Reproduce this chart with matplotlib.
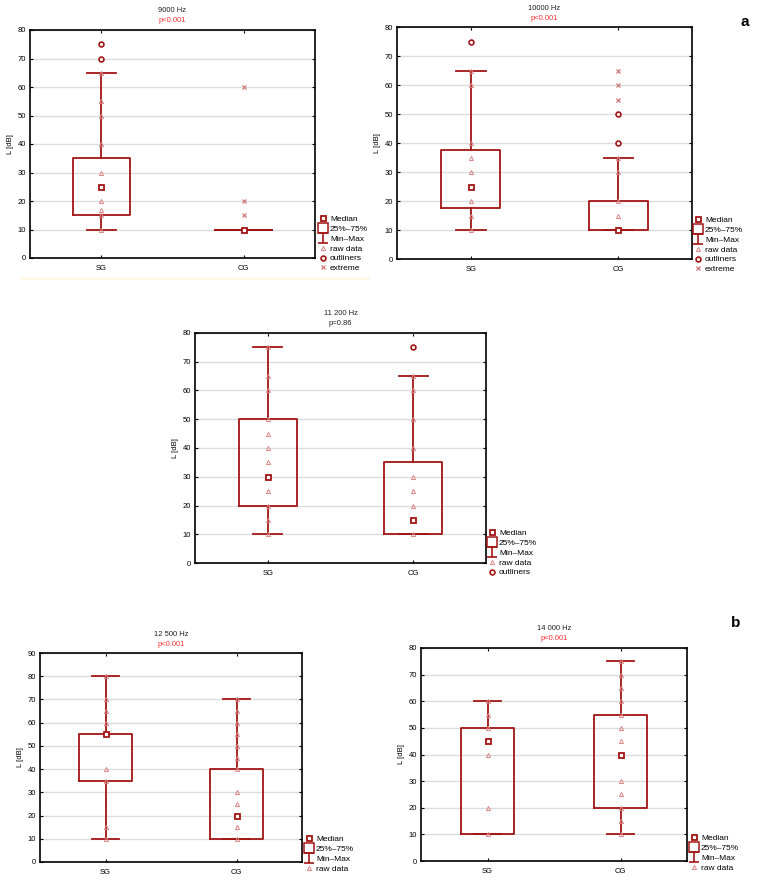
import matplotlib
matplotlib.use("Agg")
import matplotlib.pyplot as plt
from matplotlib.lines import Line2D
from matplotlib.path import Path
from matplotlib.patches import Rectangle
import numpy as np

plt.rcParams['font.family'] = ['Liberation Sans', 'DejaVu Sans']

W, H = 763, 881
groups = ["SG", "CG"]

# ---- data (dB) ----
titles = ["9000 Hz", "10000 Hz", "11 200 Hz", "12 500 Hz", "14 000 Hz"]
pvals = ["p<0.001", "p<0.001", "p=0.86", "p<0.001", "p<0.001"]
p_red = [True, True, False, True, True]
ymax = [80, 80, 80, 90, 80]

q1 = [[15, 10], [17.5, 10], [20, 10], [35, 10], [10, 20]]
med = [[25, 10], [25, 10], [30, 15], [55, 20], [45, 40]]
q3 = [[35, 10], [37.5, 20], [50, 35], [55, 40], [50, 55]]
wlo = [[10, 10], [10, 10], [10, 10], [10, 10], [10, 10]]
whi = [[65, 10], [65, 35], [75, 65], [80, 70], [60, 75]]

raw = [
    [[10, 15, 17, 20, 25, 30, 40, 50, 55, 65], [10]],
    [[10, 15, 20, 30, 35, 40, 60, 65], [10, 15, 20, 30, 35]],
    [[10, 15, 20, 25, 35, 40, 45, 50, 60, 65, 75], [10, 20, 25, 30, 40, 50, 60, 65]],
    [[10, 15, 35, 40, 55, 60, 65, 70, 80], [10, 15, 20, 25, 30, 40, 45, 50, 55, 60, 65, 70]],
    [[10, 20, 40, 45, 50, 55, 60], [10, 15, 20, 25, 30, 40, 45, 50, 55, 60, 65, 70, 75]],
]
outliers = [
    [[70, 75], []],
    [[75], [40, 50]],
    [[], [75]],
    [[], []],
    [[], []],
]
extremes = [
    [[], [15, 20, 60]],
    [[], [55, 60, 65]],
    [[], []],
    [[], []],
    [[], []],
]
legend_labels = [
    ["Median", "25%\u201375%", "Min\u2013Max", "raw data", "outliners", "extreme"],
    ["Median", "25%\u201375%", "Min\u2013Max", "raw data", "outliners", "extreme"],
    ["Median", "25%\u201375%", "Min\u2013Max", "raw data", "outliners"],
    ["Median", "25%\u201375%", "Min\u2013Max", "raw data"],
    ["Median", "25%\u201375%", "Min\u2013Max", "raw data"],
]

# ---- layout (pixels) ----
axes_px = [(30, 315, 30, 258), (397, 692, 27, 259), (195, 486, 333, 563),
           (40, 302, 653, 862), (421, 687, 648, 861)]
legend_px = [(320, 215), (695, 216), (489, 529), (306, 835), (691, 834)]
panel_letters = [(745, 22, "a"), (736, 623, "b")]

DARK = "#a31515"
LIGHT = "#d98585"
EXT = "#d27a7a"

ibeam = Path([(-1, 1), (1, 1), (0, 1), (0, -1), (-1, -1), (1, -1)],
             [Path.MOVETO, Path.LINETO, Path.MOVETO, Path.LINETO, Path.MOVETO, Path.LINETO])

fig = plt.figure(figsize=(W / 100, H / 100), dpi=100)
fig.patch.set_facecolor("white")
fig.patches.append(Rectangle((20 / W, 1 - 280 / H), 350 / W, 3 / H, transform=fig.transFigure,
                             facecolor="#fff7ea", edgecolor="none", zorder=0))

for i in range(5):
    l, r, t, b = axes_px[i]
    ax = fig.add_axes([l / W, 1 - b / H, (r - l) / W, (b - t) / H])
    pos = np.arange(len(groups))
    stats = []
    for j in range(2):
        stats.append(dict(med=med[i][j], q1=q1[i][j], q3=q3[i][j],
                          whislo=wlo[i][j], whishi=whi[i][j], fliers=[]))
    ax.bxp(stats, positions=pos, widths=0.4, capwidths=0.2, showfliers=False,
           boxprops=dict(color=DARK, linewidth=1.3),
           whiskerprops=dict(color=DARK, linewidth=1.3),
           capprops=dict(color=DARK, linewidth=1.3),
           medianprops=dict(linewidth=0), zorder=3)
    for j in range(2):
        ax.plot([pos[j]] * len(raw[i][j]), raw[i][j], linestyle="none", marker="^",
                markersize=3, markerfacecolor="none", markeredgecolor=LIGHT,
                markeredgewidth=0.7, zorder=4)
        if outliers[i][j]:
            ax.plot([pos[j]] * len(outliers[i][j]), outliers[i][j], linestyle="none",
                    marker="o", markersize=3.5, markerfacecolor="white",
                    markeredgecolor=DARK, markeredgewidth=1.2, zorder=5)
        if extremes[i][j]:
            ax.plot([pos[j]] * len(extremes[i][j]), extremes[i][j], linestyle="none",
                    marker="x", markersize=3.5, color=EXT, markeredgewidth=0.9, zorder=5)
        ax.plot([pos[j]], [med[i][j]], linestyle="none", marker="s", markersize=3.6,
                markerfacecolor="white", markeredgecolor=DARK, markeredgewidth=1.3, zorder=6)

    ax.set_xlim(-0.5, 1.5)
    ax.set_ylim(0, ymax[i])
    ax.set_yticks(np.arange(0, ymax[i] + 1, 10))
    ax.set_xticks(pos)
    ax.set_xticklabels(groups)
    ax.grid(axis="y", color="#dcdcdc", linewidth=1.0, zorder=0)
    ax.set_axisbelow(True)
    ax.tick_params(axis="both", direction="in", length=2.5, width=0.8, labelsize=5.5,
                   top=True, right=True, pad=3)
    ax.tick_params(axis="x", pad=5)
    for s in ax.spines.values():
        s.set_linewidth(1.2)
        s.set_color("black")
    ax.set_ylabel("L [dB]", fontsize=5.5, labelpad=2.5)

    ax.text(0.5, 1 + 19 / (b - t), titles[i], transform=ax.transAxes, ha="center",
            va="center", fontsize=5.5, color="#222222")
    ax.text(0.5, 1 + 9 / (b - t), pvals[i], transform=ax.transAxes, ha="center",
            va="center", fontsize=5.5, color="#ff3333" if p_red[i] else "#222222")

    handles = [
        Line2D([], [], linestyle="none", marker="s", markersize=3.6, markerfacecolor="white",
               markeredgecolor=DARK, markeredgewidth=1.3),
        Line2D([], [], linestyle="none", marker="s", markersize=6.5, markerfacecolor="white",
               markeredgecolor=DARK, markeredgewidth=1.1),
        Line2D([], [], linestyle="none", marker=ibeam, markersize=6.5, color=DARK,
               markeredgewidth=1.2),
        Line2D([], [], linestyle="none", marker="^", markersize=3, markerfacecolor="none",
               markeredgecolor=LIGHT, markeredgewidth=0.7),
        Line2D([], [], linestyle="none", marker="o", markersize=3.5, markerfacecolor="white",
               markeredgecolor=DARK, markeredgewidth=1.2),
        Line2D([], [], linestyle="none", marker="x", markersize=3.5, color=EXT,
               markeredgewidth=0.9),
    ]
    n = len(legend_labels[i])
    lx, ly = legend_px[i]
    ax.legend(handles[:n], legend_labels[i], loc="upper left",
              bbox_to_anchor=(lx / W, 1 - ly / H), bbox_transform=fig.transFigure,
              frameon=False, fontsize=6, handlelength=0.8, handletextpad=0.4,
              labelspacing=0.25, borderpad=0, borderaxespad=0)

for x, y, s in panel_letters:
    fig.text(x / W, 1 - y / H, s, fontsize=11, fontweight="bold", ha="center", va="center")

fig.savefig("out.png", dpi=100)
